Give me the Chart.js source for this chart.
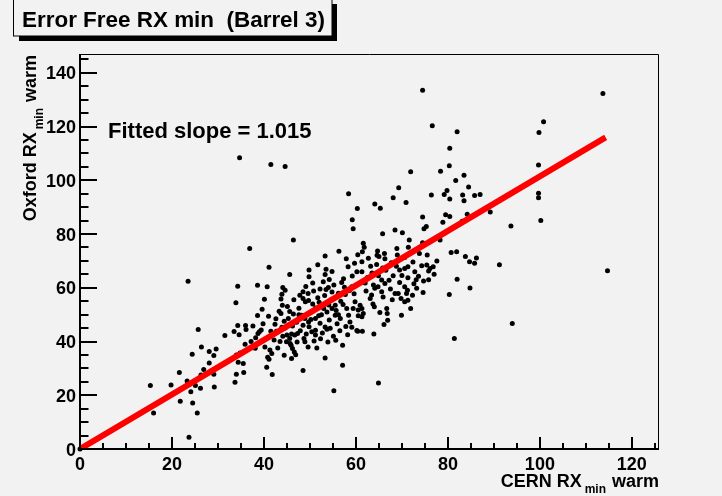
<!DOCTYPE html>
<html><head><meta charset="utf-8">
<script src="https://cdn.jsdelivr.net/npm/chart.js@4"></script>
<style>html,body{margin:0;padding:0;background:#f2f2f2;}canvas{display:block;}</style>
</head><body>
<canvas id="c" width="722" height="496"></canvas>
<script>
// ---- data (CERN RX_min warm vs Oxford RX_min warm) ----
const cernLow = [36.9,23.5,34.3,38.6,33.9,38.6,25.7,33.5,34.3,36.0,36.1,34.6,31.5,38.7,35.9,38.1,26.4,24.4,28.1,29.6,29.1,34.0,34.8,34.4,35.5,28.1,26.9,21.6,26.3,29.1,34.0,35.6,33.7,23.3,25.1,26.2,29.2,19.8,15.3,24.1,21.8,24.5,16.0,25.5,23.7,34.7,41.5,44.6];
const oxfordLow = [74.6,62.4,60.6,60.9,54.4,49.7,44.5,43.7,46.0,46.0,44.5,42.5,42.2,43.0,39.0,37.5,38.0,35.3,36.3,37.2,34.8,35.0,35.7,32.3,31.8,32.0,29.6,28.5,27.5,27.8,27.8,28.5,24.8,25.3,23.6,22.6,23.1,23.8,23.6,21.3,17.8,17.1,13.4,13.4,4.4,108.4,105.9,105.1];

const cernMidA = [46.4,59.2,59.4,60.3,56.3,53.3,51.7,49.8,49.8,53.5,54.8,53.3,54.2,45.6,41.1,40.7,44.1,44.6,43.9,48.5,49.6,59.7,60.4,60.2,59.2,53.5,54.0,59.1,40.1];
const oxfordMidA = [77.8,85.3,82.0,89.5,73.6,71.8,68.6,66.6,64.1,66.9,66.1,64.9,63.1,64.9,67.6,60.4,60.1,59.1,57.6,58.5,57.9,69.1,72.3,66.0,64.4,59.4,60.1,60.4,55.7];

const cernMidB = [43.7,43.3,43.7,45.3,39.4,39.0,41.5,42.7,43.9,45.0,46.0,45.6,46.7,40.2,41.3,41.7,43.0,40.8,41.1,44.4,46.0,45.9,46.2,46.6,46.9,48.7,48.9,49.6,51.5,50.4,51.2,51.2,49.0,49.7,50.6,48.5,48.2,48.9,49.7,48.5,51.2,51.9,53.3,53.7,54.4,53.0,53.7,54.8,55.5,55.9,55.5,56.6,57.1,53.3,57.1,40.6,41.8,48.5,55.2,58.0,58.4,58.7,59.1,60.2,59.8,59.4,44.9,45.7,64.9];
const oxfordMidB = [55.8,51.3,50.4,48.6,44.3,43.6,43.8,43.8,45.3,42.4,42.8,41.1,42.4,38.0,36.8,35.5,37.6,34.1,33.4,34.9,33.7,38.6,37.4,36.1,35.1,41.1,39.9,38.0,37.6,43.6,44.2,42.4,54.8,55.3,54.0,56.0,49.8,48.6,47.3,46.1,48.6,49.6,45.4,44.6,44.9,52.3,51.0,52.3,53.5,46.6,49.8,48.6,38.6,33.9,31.2,30.4,27.7,29.2,21.7,52.3,49.8,47.3,45.3,44.1,54.8,52.3,39.9,39.3,24.6];

const cernHigh = [74.5,113.7,76.6,82.0,100.8,99.8,80.4,80.3,78.4,71.9,83.5,81.7,99.7,69.3,68.1,70.9,58.4,64.1,65.3,76.4,79.2,79.8,80.4,83.2,83.5,84.5,85.8,87.0,99.7,99.7];
const oxfordHigh = [133.5,132.3,120.3,118.1,121.8,117.8,111.9,105.4,103.4,103.2,101.9,99.9,105.7,97.2,93.5,91.7,95.0,91.2,89.6,94.5,94.7,96.2,93.0,94.5,92.4,97.5,94.3,94.7,95.2,93.5];

const cernUpper = [74.5,79.5,80.4,78.9,74.8,75.3,68.5,70.1,65.8,71.6,71.4,74.5,61.6,61.8,61.4,64.7,64.6,65.0,69.0,75.5,73.8,78.3,80.7,81.9,66.3,70.6];
const oxfordUpper = [86.3,87.2,86.5,84.4,82.0,82.8,81.5,80.5,80.1,77.8,75.1,76.8,76.6,75.1,73.4,73.7,72.1,71.6,72.2,72.2,72.8,77.8,73.1,73.4,70.8,71.3];

const cernCore = [61.3,61.3,64.5,69.5,70.6,71.3,74.3,75.4,76.1,76.8,77.0,73.6,74.7,71.3,68.1,65.6,66.3,63.8,64.1,64.8,70.6,71.2,71.0,73.2,68.5,69.2,69.8,70.6,71.3,65.6,65.9,63.1,63.4,60.9,61.3,60.5,61.6,64.0,66.7,66.8,71.9,69.9,66.9,66.1,60.5,61.3,60.4,61.4,63.9,82.0,80.3,81.4];
const oxfordCore = [69.7,66.0,68.7,66.6,67.2,67.8,68.2,68.5,67.2,67.8,65.0,64.3,62.5,63.7,64.5,62.9,61.6,61.0,59.8,60.4,60.4,59.1,57.9,59.8,57.9,57.9,56.0,54.8,55.4,58.5,56.6,56.0,57.3,53.5,52.3,51.7,50.4,52.9,52.3,50.4,52.3,49.8,47.9,46.3,49.6,49.2,43.8,43.8,42.8,63.2,57.5,41.1];

const cernRight = [84.2,89.2,83.1,93.7,100.2,83.8,84.7,85.8,86.2,91.2,84.8,114.7,94.0];
const oxfordRight = [87.4,88.2,84.8,83.0,85.0,71.6,69.7,69.1,71.1,68.6,59.9,66.3,46.7];

const cernDense = [49.1,50.6,52.2,55.2,56.2,57.5,51.7,53.2,54.7,56.7,57.7,51.2,52.5,54.2,55.7,57.2,50.1,47.6,47.1,47.9,49.8,52.2,52.7,55.1,56.5,58.2,47.2,44.4,42.6,46.4,45.1,42.4,44.6,47.6,62.5,63.2,66.5,67.7,67.2,69.5,72.6,72.8,75.8,62.2,64.9,67.5,72.3,74.6,62.7,58.3,57.3,57.9,0];
const oxfordDense = [60.5,61.8,59.5,61.0,58.0,60.2,56.3,57.1,55.6,55.0,57.5,52.5,50.0,48.0,51.5,53.8,50.8,52.4,47.2,44.0,45.5,46.8,43.2,42.0,44.0,42.5,39.8,47.5,48.5,50.2,53.0,46.4,45.0,50.0,63.8,68.0,66.5,69.3,62.8,62.0,61.5,66.0,63.0,58.8,64.5,59.5,57.2,58.2,71.0,67.8,63.4,70.8,0];

const cernFill = [44.0,46.5,47.8,50.8,52.9,54.8,56.9,58.6,46.2,47.3,49.2,50.9,52.3,53.9,55.6,57.8,56.2,54.1,52.0,50.2,45.6,44.1,42.2,43.5,38.2,37.2,39.8,41.0,37.6,39.6,63.5,65.8,68.8,70.0,73.1,75.8,77.6,72.4,66.2,68.9,62.0,67.9,63.7,65.2,59.6];
const oxfordFill = [53.5,55.5,57.2,58.8,62.2,58.4,62.0,59.0,45.8,43.0,42.8,40.2,41.0,39.8,40.5,45.6,50.0,53.6,54.6,48.2,51.2,42.0,40.6,40.0,41.4,40.0,46.6,49.4,45.8,52.0,65.5,67.4,68.0,64.6,63.0,66.2,70.0,69.6,72.8,74.6,61.8,55.5,54.0,50.8,57.8];

// fitted straight line (slope 1.015), end points
const fitX = [0, 114.3];
const fitY = [0, 116.0];
const fitLabel = 'Fitted slope = 1.015';

const xTickLabels = [0, 20, 40, 60, 80, 100, 120];
const yTickLabels = [0, 20, 40, 60, 80, 100, 120, 140];

const titleText = 'Error Free RX min  (Barrel 3)';

// ---- build datasets ----
const xGroups = [cernLow, cernMidA, cernMidB, cernHigh, cernUpper, cernCore, cernRight, cernDense, cernFill];
const yGroups = [oxfordLow, oxfordMidA, oxfordMidB, oxfordHigh, oxfordUpper, oxfordCore, oxfordRight, oxfordDense, oxfordFill];
const points = [];
xGroups.forEach((g, gi) => g.forEach((v, i) => points.push({x: v, y: yGroups[gi][i]})));
const fitPoints = fitX.map((v, i) => ({x: v, y: fitY[i]}));

const FONT = '"Liberation Sans", Arial, Helvetica, sans-serif';

const rootStyle = {
  id: 'rootStyle',
  beforeDraw(chart) {
    const ctx = chart.ctx;
    ctx.save();
    ctx.fillStyle = '#f2f2f2';
    ctx.fillRect(0, 0, chart.width, chart.height);
    ctx.restore();
  },
  afterDraw(chart) {
    const ctx = chart.ctx;
    const xs = chart.scales.x, ys = chart.scales.y;
    const {left, right, top, bottom} = chart.chartArea;
    ctx.save();
    ctx.strokeStyle = '#000';
    ctx.fillStyle = '#000';
    // frame
    ctx.lineWidth = 1;
    ctx.beginPath();
    ctx.moveTo(left, top + 0.5); ctx.lineTo(right - 0.5, top + 0.5); ctx.lineTo(right - 0.5, bottom);
    ctx.stroke();
    ctx.lineWidth = 2;
    ctx.beginPath();
    ctx.moveTo(left, top); ctx.lineTo(left, bottom); ctx.lineTo(right, bottom);
    ctx.stroke();
    // y ticks (inside)
    for (let v = 0; v <= ys.max; v += 5) {
      const y = Math.round(ys.getPixelForValue(v));
      const len = (v % 20 === 0) ? 17 : 8.5;
      ctx.beginPath(); ctx.moveTo(left, y); ctx.lineTo(left + len, y); ctx.stroke();
    }
    // x ticks (inside)
    for (let v = 0; v <= xs.max; v += 5) {
      const x = Math.round(xs.getPixelForValue(v));
      const len = (v % 20 === 0) ? 12 : 6;
      ctx.beginPath(); ctx.moveTo(x, bottom); ctx.lineTo(x, bottom - len); ctx.stroke();
    }
    // tick labels
    ctx.font = 'bold 18px ' + FONT;
    ctx.textAlign = 'right';
    ctx.textBaseline = 'alphabetic';
    yTickLabels.forEach(v => {
      const y = ys.getPixelForValue(v);
      ctx.fillText(String(v), left - 4, y + 6.5);
    });
    ctx.textAlign = 'center';
    xTickLabels.forEach(v => {
      const x = xs.getPixelForValue(v);
      ctx.fillText(String(v), x, bottom + 21);
    });
    // x axis title: CERN RX_min warm (right aligned)
    ctx.textAlign = 'left';
    const big = 'bold 18px ' + FONT, small = 'bold 12px ' + FONT;
    ctx.font = big; const w1 = ctx.measureText('CERN RX').width; const w3 = ctx.measureText('warm').width;
    ctx.font = small; const w2 = ctx.measureText('min').width;
    let sx = right - (w1 + 3 + w2 + 6 + w3);
    ctx.font = big; ctx.fillText('CERN RX', sx, 487);
    ctx.font = small; ctx.fillText('min', sx + w1 + 3, 493);
    ctx.font = big; ctx.fillText('warm', sx + w1 + 3 + w2 + 6, 487);
    // y axis title: Oxford RX_min warm (rotated, aligned to top)
    ctx.save();
    ctx.rotate(-Math.PI / 2);
    ctx.font = big; const v1 = ctx.measureText('Oxford RX').width; const v3 = ctx.measureText('warm').width;
    ctx.font = small; const v2 = ctx.measureText('min').width;
    let sy = -top - 1 - (v1 + 3 + v2 + 6 + v3);
    ctx.font = big; ctx.fillText('Oxford RX', sy, 36);
    ctx.font = small; ctx.fillText('min', sy + v1 + 3, 43);
    ctx.font = big; ctx.fillText('warm', sy + v1 + 3 + v2 + 6, 36);
    ctx.restore();
    // fit annotation
    ctx.font = 'bold 22px ' + FONT;
    ctx.fillText(fitLabel, 108, 138);
    // title box with shadow
    ctx.fillStyle = '#000';
    ctx.fillRect(19, 36, 318, 5);
    ctx.fillRect(332, 4, 5, 37);
    ctx.fillStyle = '#f2f2f2';
    ctx.fillRect(13, -1, 319, 37);
    ctx.lineWidth = 1;
    ctx.strokeStyle = '#000';
    ctx.strokeRect(13.5, -1, 318.5, 37);
    ctx.fillStyle = '#000';
    ctx.font = 'bold 22px ' + FONT;
    const tw = ctx.measureText(titleText).width;
    const ts = 22 * 303 / tw;
    ctx.font = 'bold ' + ts.toFixed(2) + 'px ' + FONT;
    ctx.fillText(titleText, 22, 27);
    ctx.restore();
  }
};

new Chart(document.getElementById('c'), {
  type: 'scatter',
  data: {
    datasets: [
      {
        label: 'fit', data: fitPoints, showLine: true, order: 0,
        borderColor: '#ff0000', borderWidth: 6, borderCapStyle: 'butt',
        pointRadius: 0, fill: false
      },
      {
        label: 'modules', data: points, order: 1,
        pointStyle: 'circle', pointRadius: 2.5, pointHoverRadius: 2.5,
        backgroundColor: '#000', borderWidth: 0, clip: 6
      }
    ]
  },
  options: {
    responsive: false,
    animation: false,
    devicePixelRatio: 1,
    events: [],
    layout: {padding: {left: 80, right: 63, top: 54, bottom: 47}},
    plugins: {legend: {display: false}, tooltip: {enabled: false}, title: {display: false}},
    scales: {
      x: {type: 'linear', min: 0, max: 125.9, display: false},
      y: {type: 'linear', min: 0, max: 147, display: false}
    }
  },
  plugins: [rootStyle]
});
</script>
</body></html>
